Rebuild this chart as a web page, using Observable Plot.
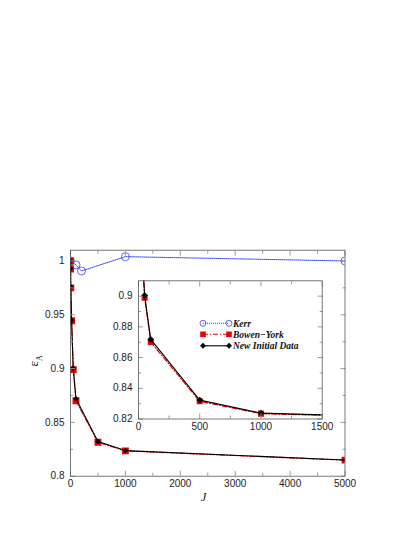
<!DOCTYPE html>
<html><head><meta charset="utf-8">
<script src="https://cdn.jsdelivr.net/npm/d3@7"></script>
<script src="https://cdn.jsdelivr.net/npm/@observablehq/plot@0.6"></script>
<style>
body{margin:0;background:#fff}
#wrap{position:relative;width:415px;height:537px;overflow:hidden}
#wrap svg{position:absolute;left:0;top:0}
.ylab{position:absolute;left:20px;top:352px;transform:rotate(-90deg);transform-origin:center;font-family:"Liberation Serif",serif;font-size:13px;color:#111;width:30px;text-align:center}
.ylab sub{font-size:8px}
.xlab{position:absolute;left:201px;top:490px;font-family:"Liberation Serif",serif;font-style:italic;font-size:12px;color:#111}
</style></head><body><div id="wrap"></div>
<script>
// ---- data ----
const J = [0, 2, 5, 20, 50, 100, 500, 1000, 5000];
const bowenYork = [1.0, 0.9925, 0.975, 0.9445, 0.899, 0.8701, 0.8315, 0.8235, 0.8149];
const newInitial = [1.0, 0.993, 0.976, 0.945, 0.9005, 0.8719, 0.8323, 0.8238, 0.815];
const kerrJ = [0, 100, 200, 1000, 5000];
const kerr = [1.0, 0.9963, 0.9907, 1.004, 1.0];

const xTicks = [0, 1000, 2000, 3000, 4000, 5000];
const xMinor = [500, 1500, 2500, 3500, 4500];
const yTicks = [0.8, 0.85, 0.9, 0.95, 1];
const yMinor = [0.825, 0.875, 0.925, 0.975];
const insetXTicks = [0, 500, 1000, 1500];
const insetXMinor = [250, 750, 1250];
const insetYTicks = [0.82, 0.84, 0.86, 0.88, 0.9];
const insetYMinor = [0.83, 0.85, 0.87, 0.89];
const legendLabels = ["Kerr", "Bowen\u2212York", "New Initial Data"];

const colKerr = "#3344ee", colBY = "#ee0000", colNID = "#000000";
const byRows = J.map((j, i) => ({J: j, v: bowenYork[i]}));
const nidRows = J.map((j, i) => ({J: j, v: newInitial[i]}));
const kerrRows = kerrJ.map((j, i) => ({J: j, v: kerr[i]}));

const tickFont = '"Liberation Sans Narrow","Arial Narrow","Liberation Sans",Arial,sans-serif';
const fmt = d => String(d);

function axes(xt, xm, yt, ym, padX) {
  const tc = "#999";
  return [
    Plot.axisX(xt, {anchor: "bottom", tickSize: 0, tickPadding: padX, label: null, tickFormat: fmt, fill: "#222"}),
    Plot.axisY(yt, {anchor: "left", tickSize: 0, tickPadding: 6, label: null, tickFormat: fmt, fill: "#222"}),
    Plot.axisX(xt, {anchor: "bottom", tickSize: -5, tickFormat: () => "", label: null, stroke: tc}),
    Plot.axisX(xt, {anchor: "top", tickSize: -5, tickFormat: () => "", label: null, stroke: tc}),
    Plot.axisX(xm, {anchor: "bottom", tickSize: -3, tickFormat: () => "", label: null, stroke: tc}),
    Plot.axisX(xm, {anchor: "top", tickSize: -3, tickFormat: () => "", label: null, stroke: tc}),
    Plot.axisY(yt, {anchor: "left", tickSize: -5, tickFormat: () => "", label: null, stroke: tc}),
    Plot.axisY(yt, {anchor: "right", tickSize: -5, tickFormat: () => "", label: null, stroke: tc}),
    Plot.axisY(ym, {anchor: "left", tickSize: -3, tickFormat: () => "", label: null, stroke: tc}),
    Plot.axisY(ym, {anchor: "right", tickSize: -3, tickFormat: () => "", label: null, stroke: tc})
  ];
}

function series(clip, rSq, rDi) {
  return [
    Plot.line(kerrRows, {x: "J", y: "v", stroke: colKerr, strokeWidth: 1, strokeDasharray: "1,1", clip}),
    Plot.dot(kerrRows, {x: "J", y: "v", r: 4, stroke: colKerr, fill: "none", strokeWidth: 0.8, clip}),
    Plot.line(byRows, {x: "J", y: "v", stroke: colBY, strokeWidth: 1.2, strokeDasharray: "5,2,1,2", clip}),
    Plot.dot(byRows, {x: "J", y: "v", symbol: "square", r: rSq, fill: colBY, stroke: "none", clip}),
    Plot.line(nidRows, {x: "J", y: "v", stroke: colNID, strokeWidth: 1.1, clip}),
    Plot.dot(nidRows, {x: "J", y: "v", symbol: "diamond2", r: rDi, fill: colNID, stroke: "none", clip})
  ];
}

const main = Plot.plot({
  width: 415, height: 537,
  marginLeft: 70, marginRight: 70.5, marginTop: 249.7, marginBottom: 61.3,
  x: {domain: [0, 5000], axis: null},
  y: {domain: [0.8, 1.01], axis: null},
  style: {fontFamily: tickFont, fontSize: "10px", background: "white"},
  marks: [
    ...series(true, 3.9, 2.5),
    ...axes(xTicks, xMinor, yTicks, yMinor, 4),
    Plot.frame({stroke: "#555", strokeWidth: 0.8})
  ]
});

const inset = Plot.plot({
  width: 415, height: 537,
  marginLeft: 138, marginRight: 93.3, marginTop: 280.3, marginBottom: 118.5,
  x: {domain: [0, 1500], axis: null},
  y: {domain: [0.82, 0.91], axis: null},
  style: {fontFamily: tickFont, fontSize: "10px", background: "transparent"},
  marks: [
    Plot.frame({fill: "white", stroke: "none"}),
    ...series(true, 3.4, 3),
    ...axes(insetXTicks, insetXMinor, insetYTicks, insetYMinor, 4),
    Plot.frame({stroke: "#555", strokeWidth: 0.8})
  ]
});

const wrap = document.getElementById("wrap");
wrap.appendChild(main);
wrap.appendChild(inset);

// legend (inside inset)
const lg = d3.create("svg").attr("width", 415).attr("height", 537).style("background", "transparent");
const rowsY = [323.3, 334.3, 345.8];
const cols = [colKerr, colBY, colNID];
const dashes = ["1,1", "5,2,1,2", null];
legendLabels.forEach((lab, i) => {
  const y = rowsY[i];
  lg.append("line").attr("x1", 203).attr("x2", 229).attr("y1", y).attr("y2", y)
    .attr("stroke", cols[i]).attr("stroke-width", 1.1).attr("stroke-dasharray", dashes[i]);
  [203, 229].forEach(x => {
    if (i === 0) lg.append("circle").attr("cx", x).attr("cy", y).attr("r", 3).attr("fill", "none").attr("stroke", cols[i]).attr("stroke-width", 0.8);
    else if (i === 1) lg.append("rect").attr("x", x - 2.8).attr("y", y - 2.8).attr("width", 5.6).attr("height", 5.6).attr("fill", cols[i]);
    else lg.append("path").attr("d", `M${x},${y - 3}L${x + 3},${y}L${x},${y + 3}L${x - 3},${y}Z`).attr("fill", cols[i]);
  });
  lg.append("text").attr("x", 233).attr("y", y).attr("dy", "0.35em")
    .attr("font-family", '"Liberation Serif",serif').attr("font-style", "italic").attr("font-weight", "bold")
    .attr("font-size", 9.5).attr("fill", "#111").text(lab);
});
wrap.appendChild(lg.node());

const yl = document.createElement("div"); yl.className = "ylab"; yl.innerHTML = "\u03b5<sub>A</sub>"; wrap.appendChild(yl);
const xl = document.createElement("div"); xl.className = "xlab"; xl.textContent = "J"; wrap.appendChild(xl);
</script></body></html>
